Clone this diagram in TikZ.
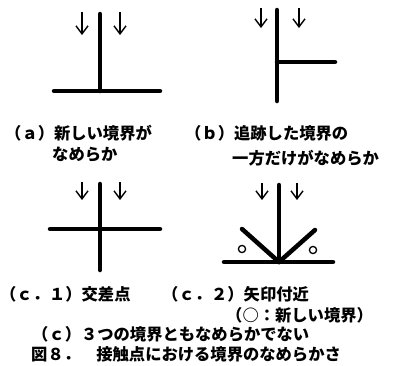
\documentclass[tikz,border=0pt]{standalone}
\usepackage{fontspec}
\newfontfamily\jp{Noto Sans CJK JP}
\usetikzlibrary{arrows.meta}
\tikzset{
  bar/.style={line width=4.5pt, line cap=round},
  flow/.style={line width=1.4pt, -{Straight Barb[length=8pt,width=12pt,line width=1.4pt]}},
  ring/.style={line width=1.3pt},
  captext/.style={anchor=west, inner sep=0pt, font=\jp\bfseries\fontsize{16.3}{18}\selectfont}
}
\begin{document}
\begin{tikzpicture}[x=1pt,y=-1pt]
\useasboundingbox (0,0) rectangle (394,365);
% (a)
\coordinate (aT) at (100,14);
\coordinate (aJ) at (100,91);
\coordinate (aL) at (54,91);
\coordinate (aR) at (160,91);
\coordinate (aA1) at (82,12); \coordinate (aA1e) at (82,35);
\coordinate (aA2) at (120,12); \coordinate (aA2e) at (120,35);
\draw[bar] (aT) -- (aJ);
\draw[bar] (aL) -- (aR);
\draw[flow] (aA1) -- (aA1e);
\draw[flow] (aA2) -- (aA2e);
% (b)
\coordinate (bT) at (277,10);
\coordinate (bB) at (277,101);
\coordinate (bJ) at (277,62);
\coordinate (bR) at (335,62);
\coordinate (bA1) at (261,8); \coordinate (bA1e) at (261,28);
\coordinate (bA2) at (299,8); \coordinate (bA2e) at (299,28);
\draw[bar] (bT) -- (bB);
\draw[bar] (bJ) -- (bR);
\draw[flow] (bA1) -- (bA1e);
\draw[flow] (bA2) -- (bA2e);
% (c.1)
\coordinate (cT) at (100,184);
\coordinate (cB) at (100,270);
\coordinate (cL) at (50,229);
\coordinate (cR) at (160,229);
\coordinate (cA1) at (82,182); \coordinate (cA1e) at (82,200);
\coordinate (cA2) at (120,182); \coordinate (cA2e) at (120,200);
\draw[bar] (cT) -- (cB);
\draw[bar] (cL) -- (cR);
\draw[flow] (cA1) -- (cA1e);
\draw[flow] (cA2) -- (cA2e);
% (c.2)
\coordinate (dT) at (279,185);
\coordinate (dJ) at (279,262);
\coordinate (dL) at (224,262);
\coordinate (dR) at (333,262);
\coordinate (dDL) at (242,229);
\coordinate (dDR) at (315,230);
\coordinate (dA1) at (262,183); \coordinate (dA1e) at (262,200);
\coordinate (dA2) at (297,183); \coordinate (dA2e) at (297,200);
\draw[bar] (dT) -- (dJ);
\draw[bar] (dL) -- (dR);
\draw[bar] (dDL) -- (dJ);
\draw[bar] (dDR) -- (dJ);
\draw[ring] (242,249) circle (3.6);
\draw[ring] (313,250) circle (3.6);
\draw[flow] (dA1) -- (dA1e);
\draw[flow] (dA2) -- (dA2e);
% captions
\node[captext] (ta1) at (5,133) {（ａ）新しい境界が};
\node[captext] (ta2) at (52,155) {なめらか};
\node[captext] (tb1) at (185,133) {（ｂ）追跡した境界の};
\node[captext] (tb2) at (232,158) {一方だけがなめらか};
\node[captext] (tc1) at (0,294) {（ｃ．１）交差点};
\node[captext] (tc2) at (162,294) {（ｃ．２）矢印付近};
\node[captext] (tc3) at (226,315) {（○：新しい境界）};
\node[captext] (tc) at (32,334) {（ｃ）３つの境界ともなめらかでない};
\node[captext] (fig) at (31,354) {図８．　接触点における境界のなめらかさ};
\end{tikzpicture}
\end{document}
